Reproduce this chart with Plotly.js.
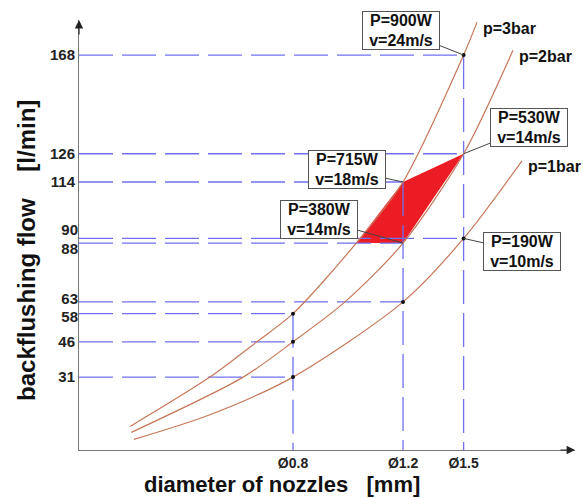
<!DOCTYPE html>
<html><head><meta charset="utf-8">
<script src="https://cdn.plot.ly/plotly-3.0.1.min.js"></script>
<style>html,body{margin:0;padding:0;background:#fff}#chart{width:583px;height:498px}</style>
</head><body><div id="chart"></div>
<script>
// ---- data ----
const xTickVals = [0.8, 1.2, 1.5];
const xTickText = ['Ø0.8', 'Ø1.2', 'Ø1.5'];
const yTickMain = [31, 46, 114, 126, 168];
const yTickUpper = [63];   // label nudged up
const yTickLower = [58];   // label nudged down
const yTickUpper2 = [90];
const yTickLower2 = [88];

const p1x = [0.445, 0.589, 0.8, 1.2, 1.5, 1.86];
const p1y = [4.5, 15, 31, 63, 90, 123];
const p2x = [0.441, 0.666, 0.8, 0.969, 1.2, 1.5, 1.799];
const p2y = [7.5, 31, 46, 63, 88, 126, 170];
const p3x = [0.439, 0.589, 0.700, 0.8, 1.01, 1.2, 1.5, 1.576];
const p3y = [10, 31, 46, 58, 88, 114, 168, 182];
const curveNames = ['p=1bar', 'p=2bar', 'p=3bar'];

const guideHX = [1.5, 1.5, 1.2, 1.5, 1.2, 1.2, 0.8, 0.8, 0.8];
const guideHY = [168, 126, 114, 90, 88, 63, 58, 46, 31];
const guideVX = [0.8, 1.2, 1.5];
const guideVY = [58, 114, 168];

const dotX = [0.8, 0.8, 0.8, 1.2, 1.5, 1.5];
const dotY = [31, 46, 58, 63, 90, 168];

const regionX = [1.01, 1.2, 1.5, 1.2];
const regionY = [88, 114, 126, 88];

const powerText = ['P=900W<br>v=24m/s', 'P=530W<br>v=14m/s', 'P=715W<br>v=18m/s', 'P=380W<br>v=14m/s', 'P=190W<br>v=10m/s'];
const powerX = [1.5, 1.5, 1.2, 1.2, 1.5];
const powerY = [168, 126, 114, 88, 90];

// ---- layout constants ----
const xRange = [-0.4393, 0.3543];
const yRange = [0, 182.9];
const xMin = Math.pow(10, xRange[0]);
const FONT = 'Liberation Sans, Arial, sans-serif';
const guideColor = 'rgb(112,112,238)';
const curveColor = 'rgb(198,120,90)';

const traces = [];
traces.push({x: regionX, y: regionY, type: 'scatter', mode: 'lines', fill: 'toself',
  fillcolor: 'rgb(236,28,36)', line: {width: 0, color: 'rgb(236,28,36)'}, hoverinfo: 'skip', showlegend: false});
const gx = [], gy = [];
guideHX.forEach((xv, i) => { gx.push(xMin, xv, null); gy.push(guideHY[i], guideHY[i], null); });
guideVX.forEach((xv, i) => { gx.push(xv, xv, null); gy.push(guideVY[i], 0, null); });
traces.push({x: gx, y: gy, type: 'scatter', mode: 'lines', connectgaps: false,
  line: {color: guideColor, width: 1.3, dash: '34px,9px'}, hoverinfo: 'skip', showlegend: false});
[[p1x, p1y], [p2x, p2y], [p3x, p3y]].forEach((c, i) => {
  traces.push({x: c[0], y: c[1], type: 'scatter', mode: 'lines', name: curveNames[i],
    line: {color: curveColor, width: 1.2, shape: 'spline', smoothing: 0.8}, showlegend: false});
});
traces.push({x: dotX, y: dotY, type: 'scatter', mode: 'markers',
  marker: {color: '#111', size: 4}, showlegend: false, hoverinfo: 'skip'});

const offsets = [[-63, -25], [65, -26], [-56, -12], [-84, -24], [58, 13]];
const annotations = [];
powerText.forEach((t, i) => {
  annotations.push({x: Math.log10(powerX[i]), y: powerY[i], xref: 'x', yref: 'y', text: t,
    showarrow: true, arrowhead: 0, arrowwidth: 1, arrowcolor: '#444',
    ax: offsets[i][0], ay: offsets[i][1], bgcolor: '#fff', bordercolor: '#555', borderwidth: 1,
    borderpad: 1, width: 74, height: 35, align: 'center',
    font: {family: FONT, size: 16, color: '#111', weight: 'bold'}});
});
[[p1x, p1y], [p2x, p2y], [p3x, p3y]].forEach((c, i) => {
  const n = c[0].length;
  annotations.push({x: Math.log10(c[0][n - 1]), y: c[1][n - 1], xref: 'x', yref: 'y', text: curveNames[i],
    showarrow: false, xanchor: 'left', yanchor: 'middle', xshift: 4, yshift: -6,
    font: {family: FONT, size: 16, color: '#111', weight: 'bold'}});
});
annotations.push({xref: 'paper', yref: 'paper', x: -0.107, y: 0.465, textangle: -90, showarrow: false,
  text: 'backflushing flow\u00a0\u00a0\u00a0\u00a0[l/min]', xanchor: 'center', yanchor: 'middle',
  font: {family: FONT, size: 24, color: '#111', weight: 'bold'}});
annotations.push({xref: 'paper', yref: 'paper', x: 0.41, y: -0.08, showarrow: false,
  text: 'diameter of nozzles\u00a0\u00a0\u00a0[mm]', xanchor: 'center', yanchor: 'middle',
  font: {family: FONT, size: 22, color: '#111', weight: 'bold'}});
annotations.push({xref: 'paper', yref: 'paper', x: 0, y: 1, ax: 0, ay: 16, showarrow: true, text: '',
  arrowhead: 2, arrowsize: 1.4, arrowwidth: 1.2, arrowcolor: '#222'});
annotations.push({xref: 'paper', yref: 'paper', x: 1, y: 0, ax: -16, ay: 0, showarrow: true, text: '',
  arrowhead: 2, arrowsize: 1.4, arrowwidth: 1.2, arrowcolor: '#222'});

const tickFont = {family: FONT, size: 15, color: '#222', weight: 'bold'};
const yBase = {range: yRange, showgrid: false, zeroline: false, ticks: '', fixedrange: true, tickfont: tickFont};
const overlay = (vals, shift) => Object.assign({}, yBase, {overlaying: 'y', side: 'left', tickvals: vals, ticklabelshift: shift, showline: false});
const layout = {
  width: 583, height: 498, margin: {l: 79, r: 8, t: 20, b: 48},
  paper_bgcolor: '#fff', plot_bgcolor: '#fff', showlegend: false,
  xaxis: {type: 'log', range: xRange, tickvals: xTickVals, ticktext: xTickText, showgrid: false,
    zeroline: false, showline: true, linecolor: '#777', linewidth: 1, ticks: '',
    tickfont: {family: FONT, size: 14, color: '#222', weight: 'bold'}},
  yaxis: Object.assign({}, yBase, {tickvals: yTickMain, showline: true, linecolor: '#777', linewidth: 1}),
  yaxis2: overlay(yTickUpper, -3),
  yaxis3: overlay(yTickLower, 3),
  yaxis4: overlay(yTickUpper2, -9),
  yaxis5: overlay(yTickLower2, 6),
  annotations: annotations
};
['y2', 'y3', 'y4', 'y5'].forEach(a => traces.push({x: [], y: [], yaxis: a, type: 'scatter', showlegend: false}));
Plotly.newPlot('chart', traces, layout, {displayModeBar: false, staticPlot: true});
</script></body></html>
